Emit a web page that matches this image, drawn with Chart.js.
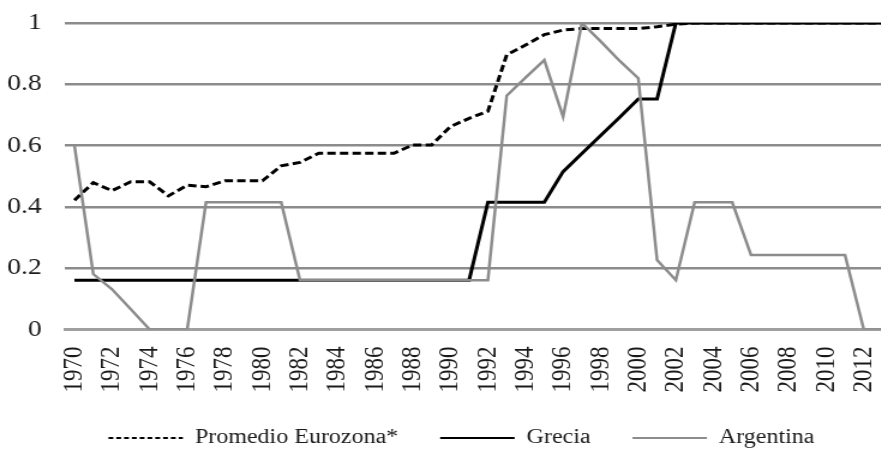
<!DOCTYPE html>
<html>
<head>
<meta charset="utf-8">
<script src="https://cdn.jsdelivr.net/npm/chart.js@4"></script>
<style>
  html, body { margin: 0; padding: 0; background: #fff; overflow: hidden; }
  #wrap { position: relative; width: 881px; height: 449px; overflow: hidden; background: #fff; }
</style>
</head>
<body>
<div id="wrap"><canvas id="c" width="750" height="458" style="position:absolute;left:0;top:0;width:900px;height:458px;display:block;"></canvas></div>
<script>
const years = [];
for (let y = 1970; y <= 2013; y++) years.push(y);

const eurozona = [0.422, 0.479, 0.453, 0.482, 0.482, 0.436, 0.471, 0.466, 0.485, 0.485,
                  0.485, 0.534, 0.545, 0.575, 0.575, 0.575, 0.575, 0.575, 0.602, 0.602,
                  0.662, 0.689, 0.712, 0.896, 0.928, 0.962, 0.977, 0.982, 0.982, 0.982,
                  0.982, 0.988, 0.996, 1, 1, 1, 1, 1, 1, 1,
                  1, 1, 1, 1];
const grecia = [0.161, 0.161, 0.161, 0.161, 0.161, 0.161, 0.161, 0.161, 0.161, 0.161,
                0.161, 0.161, 0.161, 0.161, 0.161, 0.161, 0.161, 0.161, 0.161, 0.161,
                0.161, 0.161, 0.415, 0.415, 0.415, 0.415, 0.515, 0.574, 0.633, 0.692,
                0.752, 0.752, 1, 1, 1, 1, 1, 1, 1, 1,
                1, 1, 1, 1];
const argentina = [0.60, 0.181, 0.131, 0.066, 0, 0, 0, 0.415, 0.415, 0.415,
                   0.415, 0.415, 0.161, 0.161, 0.161, 0.161, 0.161, 0.161, 0.161, 0.161,
                   0.161, 0.161, 0.161, 0.763, 0.822, 0.879, 0.694, 1.0, 0.94, 0.877,
                   0.82, 0.227, 0.161, 0.415, 0.415, 0.415, 0.243, 0.243, 0.243, 0.243,
                   0.243, 0.243, 0, 0];
const seriesNames = ['Promedio Eurozona*', 'Grecia', 'Argentina'];
const yTickValues = [0, 0.2, 0.4, 0.6, 0.8, 1];
const yTickLabels = ['0', '0.2', '0.4', '0.6', '0.8', '1'];
const xTickLabels = years.map(y => (y % 2 === 0 ? String(y) : ''));

const FONT = "'Liberation Serif', 'Times New Roman', serif";
const legendDash = [4, 2.5];

const legendShift = {
  id: 'legendShift',
  afterLayout(chart) {
    if (chart.legend) chart.legend.left += 25.8;
  }
};

new Chart(document.getElementById('c'), {
  type: 'line',
  data: {
    labels: years,
    datasets: [
      { label: seriesNames[0], data: eurozona, borderColor: '#000', borderWidth: 3,
        borderDash: [7, 3.5], pointRadius: 0, tension: 0, order: 3, fill: false },
      { label: seriesNames[1], data: grecia, borderColor: '#000', borderWidth: 3,
        pointRadius: 0, tension: 0, order: 2, fill: false },
      { label: seriesNames[2], data: argentina, borderColor: '#8c8c8c', borderWidth: 2.5,
        pointRadius: 0, tension: 0, order: 1, fill: false }
    ]
  },
  plugins: [legendShift],
  options: {
    responsive: false,
    animation: false,
    devicePixelRatio: 1,
    layout: { padding: { left: 0, right: 6.7, top: 23, bottom: 0 } },
    plugins: {
      tooltip: { enabled: false },
      legend: {
        position: 'bottom',
        labels: {
          usePointStyle: true,
          pointStyle: 'line',
          pointStyleWidth: 62,
          padding: 35,
          color: '#1a1a1a',
          font: { family: FONT, size: 20 },
          sort: (a, b) => a.datasetIndex - b.datasetIndex,
          generateLabels(chart) {
            const items = Chart.defaults.plugins.legend.labels.generateLabels(chart);
            items.forEach(it => {
              const ds = chart.data.datasets[it.datasetIndex];
              it.pointStyle = 'line';
              it.strokeStyle = ds.borderColor;
              it.fillStyle = ds.borderColor;
              it.lineWidth = 2;
              it.lineDash = ds.borderDash ? legendDash : [];
              it.fontColor = '#1a1a1a';
            });
            return items;
          }
        }
      }
    },
    scales: {
      x: {
        type: 'category',
        offset: true,
        grid: { display: false, drawTicks: false },
        border: { display: true, color: '#a0a0a0', width: 3 },
        ticks: {
          autoSkip: false,
          minRotation: 90,
          maxRotation: 90,
          padding: 17,
          color: '#1a1a1a',
          font: { family: FONT, size: 23 },
          callback: (v, i) => xTickLabels[i]
        },
        afterFit: (s) => { s.height = 63.5; s.paddingLeft = 0; s.paddingRight = 0; }
      },
      y: {
        min: 0,
        max: 1,
        afterBuildTicks: (s) => { s.ticks = yTickValues.map(v => ({ value: v })); },
        grid: { color: '#8c8c8c', lineWidth: 2.5, drawTicks: false },
        border: { display: false },
        ticks: {
          padding: 19.4,
          color: '#1a1a1a',
          font: { family: FONT, size: 23 },
          callback: (v, i) => yTickLabels[i]
        },
        afterFit: (s) => { s.width = 54.2; s.paddingTop = 0; s.paddingBottom = 0; }
      }
    }
  }
});
</script>
</body>
</html>
